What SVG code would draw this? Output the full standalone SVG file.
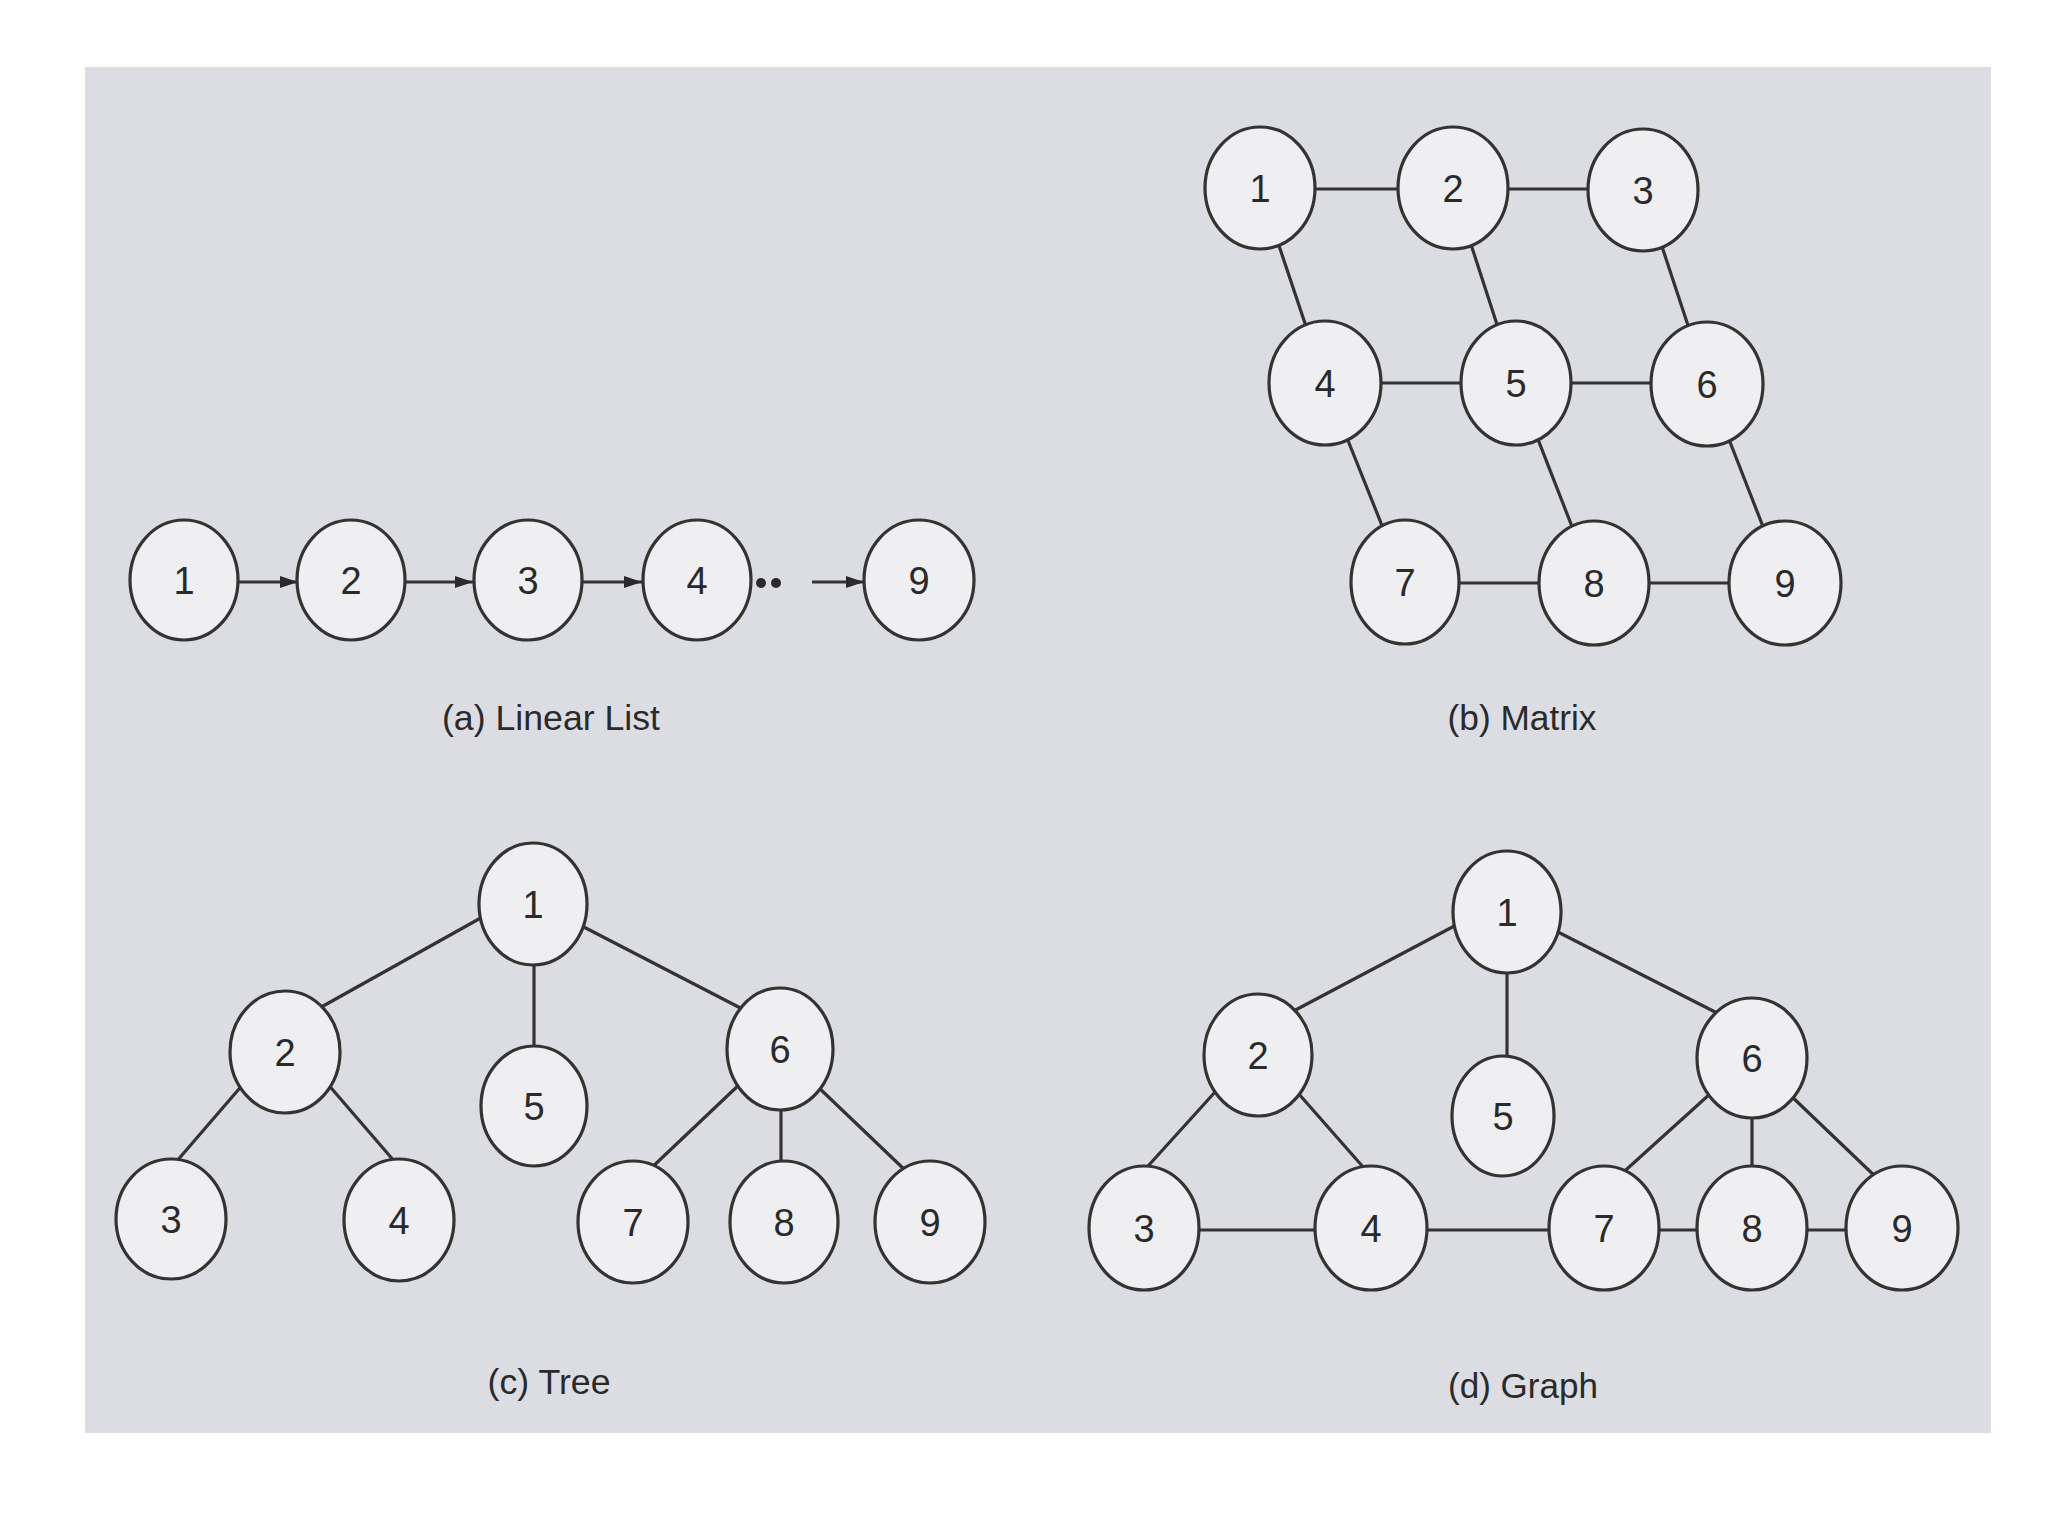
<svg xmlns="http://www.w3.org/2000/svg" width="2048" height="1536" viewBox="0 0 2048 1536">
  <defs>
    <style>
      .node ellipse { fill: #efeff2; stroke: #333; stroke-width: 3.2; }
      .node text { font-family: "Liberation Sans", Arial, sans-serif; font-size: 38px; fill: #2a2a2a; text-anchor: middle; }
      .edges line { stroke: #333; stroke-width: 3.2; fill: none; }
      .caption { font-family: "Liberation Sans", Arial, sans-serif; font-size: 35px; fill: #2a2a2a; text-anchor: middle; }
    </style>
    <marker id="arrow" viewBox="0 0 18 12" refX="18" refY="6" markerWidth="18" markerHeight="12" markerUnits="userSpaceOnUse" orient="auto">
      <path d="M0,0 L18,6 L0,12 Z" fill="#2a2a2a"/>
    </marker>
  </defs>

  <rect x="0" y="0" width="2048" height="1536" fill="#ffffff"/>
  <rect x="85" y="67" width="1906" height="1366" fill="#dcdce3"/>

  <!-- Connectors -->
  <g id="connectors" class="edges">
    <!-- (a) linear list -->
    <line x1="238" y1="582" x2="298" y2="582" marker-end="url(#arrow)"/>
    <line x1="405" y1="582" x2="473" y2="582" marker-end="url(#arrow)"/>
    <line x1="582" y1="582" x2="642" y2="582" marker-end="url(#arrow)"/>
    <line x1="812" y1="582" x2="864" y2="582" marker-end="url(#arrow)"/>
    <!-- (b) matrix -->
    <line x1="1260" y1="189" x2="1453" y2="189"/>
    <line x1="1453" y1="189" x2="1643" y2="189"/>
    <line x1="1325" y1="383" x2="1516" y2="383"/>
    <line x1="1516" y1="383" x2="1707" y2="383"/>
    <line x1="1405" y1="583" x2="1594" y2="583"/>
    <line x1="1594" y1="583" x2="1785" y2="583"/>
    <line x1="1260" y1="189" x2="1325" y2="383"/>
    <line x1="1453" y1="189" x2="1516" y2="383"/>
    <line x1="1643" y1="189" x2="1707" y2="383"/>
    <line x1="1325" y1="383" x2="1405" y2="583"/>
    <line x1="1516" y1="383" x2="1594" y2="583"/>
    <line x1="1707" y1="383" x2="1785" y2="583"/>
    <!-- (c) tree -->
    <line x1="486" y1="915" x2="316" y2="1010"/>
    <line x1="534" y1="955" x2="534" y2="1056"/>
    <line x1="578" y1="924" x2="752" y2="1014"/>
    <line x1="245" y1="1082" x2="170" y2="1169"/>
    <line x1="326" y1="1082" x2="401" y2="1169"/>
    <line x1="742" y1="1082" x2="647" y2="1172"/>
    <line x1="781" y1="1100" x2="781" y2="1169"/>
    <line x1="817" y1="1086" x2="907" y2="1172"/>
    <!-- (d) graph -->
    <line x1="1460" y1="923" x2="1288" y2="1014"/>
    <line x1="1507" y1="963" x2="1507" y2="1065"/>
    <line x1="1552" y1="929" x2="1721" y2="1015"/>
    <line x1="1216" y1="1091" x2="1139" y2="1176"/>
    <line x1="1298" y1="1093" x2="1371" y2="1176"/>
    <line x1="1144" y1="1230" x2="1371" y2="1230"/>
    <line x1="1371" y1="1230" x2="1604" y2="1230"/>
    <line x1="1604" y1="1230" x2="1752" y2="1230"/>
    <line x1="1752" y1="1230" x2="1902" y2="1230"/>
    <line x1="1711" y1="1093" x2="1617" y2="1178"/>
    <line x1="1752" y1="1108" x2="1752" y2="1176"/>
    <line x1="1788" y1="1093" x2="1879" y2="1180"/>
  </g>

  <!-- dots in linear list -->
  <g id="ellipsis-dots" fill="#2a2a2a">
    <circle cx="761" cy="583" r="5"/>
    <circle cx="776" cy="583" r="5"/>
  </g>

  <!-- (a) Linear List nodes -->
  <g id="a-node-1" class="node"><ellipse cx="184" cy="580" rx="54" ry="60"/><text x="184" y="594">1</text></g>
  <g id="a-node-2" class="node"><ellipse cx="351" cy="580" rx="54" ry="60"/><text x="351" y="594">2</text></g>
  <g id="a-node-3" class="node"><ellipse cx="528" cy="580" rx="54" ry="60"/><text x="528" y="594">3</text></g>
  <g id="a-node-4" class="node"><ellipse cx="697" cy="580" rx="54" ry="60"/><text x="697" y="594">4</text></g>
  <g id="a-node-9" class="node"><ellipse cx="919" cy="580" rx="55" ry="60"/><text x="919" y="594">9</text></g>

  <!-- (b) Matrix nodes -->
  <g id="b-node-1" class="node"><ellipse cx="1260" cy="188" rx="55" ry="61"/><text x="1260" y="202">1</text></g>
  <g id="b-node-2" class="node"><ellipse cx="1453" cy="188" rx="55" ry="61"/><text x="1453" y="202">2</text></g>
  <g id="b-node-3" class="node"><ellipse cx="1643" cy="190" rx="55" ry="61"/><text x="1643" y="204">3</text></g>
  <g id="b-node-4" class="node"><ellipse cx="1325" cy="383" rx="56" ry="62"/><text x="1325" y="397">4</text></g>
  <g id="b-node-5" class="node"><ellipse cx="1516" cy="383" rx="55" ry="62"/><text x="1516" y="397">5</text></g>
  <g id="b-node-6" class="node"><ellipse cx="1707" cy="384" rx="56" ry="62"/><text x="1707" y="398">6</text></g>
  <g id="b-node-7" class="node"><ellipse cx="1405" cy="582" rx="54" ry="62"/><text x="1405" y="596">7</text></g>
  <g id="b-node-8" class="node"><ellipse cx="1594" cy="583" rx="55" ry="62"/><text x="1594" y="597">8</text></g>
  <g id="b-node-9" class="node"><ellipse cx="1785" cy="583" rx="56" ry="62"/><text x="1785" y="597">9</text></g>

  <!-- (c) Tree nodes -->
  <g id="c-node-1" class="node"><ellipse cx="533" cy="904" rx="54" ry="61"/><text x="533" y="918">1</text></g>
  <g id="c-node-2" class="node"><ellipse cx="285" cy="1052" rx="55" ry="61"/><text x="285" y="1066">2</text></g>
  <g id="c-node-5" class="node"><ellipse cx="534" cy="1106" rx="53" ry="60"/><text x="534" y="1120">5</text></g>
  <g id="c-node-6" class="node"><ellipse cx="780" cy="1049" rx="53" ry="61"/><text x="780" y="1063">6</text></g>
  <g id="c-node-3" class="node"><ellipse cx="171" cy="1219" rx="55" ry="60"/><text x="171" y="1233">3</text></g>
  <g id="c-node-4" class="node"><ellipse cx="399" cy="1220" rx="55" ry="61"/><text x="399" y="1234">4</text></g>
  <g id="c-node-7" class="node"><ellipse cx="633" cy="1222" rx="55" ry="61"/><text x="633" y="1236">7</text></g>
  <g id="c-node-8" class="node"><ellipse cx="784" cy="1222" rx="54" ry="61"/><text x="784" y="1236">8</text></g>
  <g id="c-node-9" class="node"><ellipse cx="930" cy="1222" rx="55" ry="61"/><text x="930" y="1236">9</text></g>

  <!-- (d) Graph nodes -->
  <g id="d-node-1" class="node"><ellipse cx="1507" cy="912" rx="54" ry="61"/><text x="1507" y="926">1</text></g>
  <g id="d-node-2" class="node"><ellipse cx="1258" cy="1055" rx="54" ry="61"/><text x="1258" y="1069">2</text></g>
  <g id="d-node-5" class="node"><ellipse cx="1503" cy="1116" rx="51" ry="60"/><text x="1503" y="1130">5</text></g>
  <g id="d-node-6" class="node"><ellipse cx="1752" cy="1058" rx="55" ry="60"/><text x="1752" y="1072">6</text></g>
  <g id="d-node-3" class="node"><ellipse cx="1144" cy="1228" rx="55" ry="62"/><text x="1144" y="1242">3</text></g>
  <g id="d-node-4" class="node"><ellipse cx="1371" cy="1228" rx="56" ry="62"/><text x="1371" y="1242">4</text></g>
  <g id="d-node-7" class="node"><ellipse cx="1604" cy="1228" rx="55" ry="62"/><text x="1604" y="1242">7</text></g>
  <g id="d-node-8" class="node"><ellipse cx="1752" cy="1228" rx="55" ry="62"/><text x="1752" y="1242">8</text></g>
  <g id="d-node-9" class="node"><ellipse cx="1902" cy="1228" rx="56" ry="62"/><text x="1902" y="1242">9</text></g>

  <!-- Captions -->
  <g id="captions">
    <text class="caption" x="551" y="730" textLength="218" lengthAdjust="spacingAndGlyphs">(a) Linear List</text>
    <text class="caption" x="1522" y="730" textLength="149" lengthAdjust="spacingAndGlyphs">(b) Matrix</text>
    <text class="caption" x="549" y="1394" textLength="123" lengthAdjust="spacingAndGlyphs">(c) Tree</text>
    <text class="caption" x="1523" y="1398" textLength="150" lengthAdjust="spacingAndGlyphs">(d) Graph</text>
  </g>
</svg>
